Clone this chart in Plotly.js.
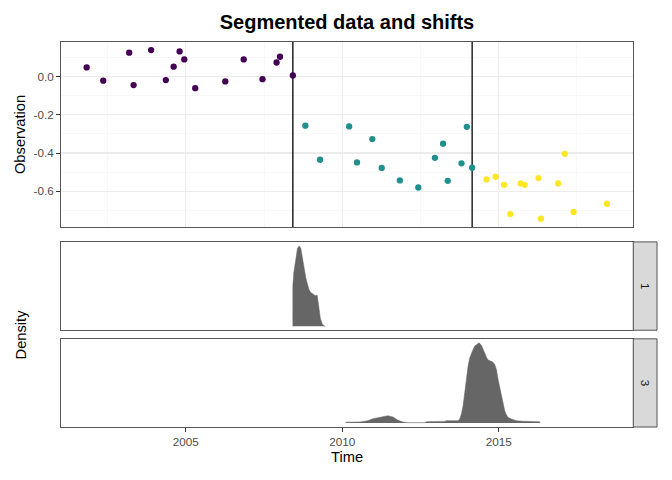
<!DOCTYPE html>
<html>
<head>
<meta charset="utf-8">
<script src="https://cdn.plot.ly/plotly-3.0.1.min.js"></script>
<style>html,body{margin:0;padding:0;background:#fff;}#chart{width:672px;height:480px;}</style>
</head>
<body>
<div id="chart"></div>
<script>
// ---- Data ----
const seg1Time = [2001.83, 2002.36, 2003.19, 2003.33, 2003.89, 2004.36, 2004.61, 2004.80, 2004.95, 2005.30, 2006.26, 2006.85, 2007.45, 2007.90, 2008.01, 2008.42];
const seg1Obs  = [0.047, -0.022, 0.124, -0.045, 0.138, -0.019, 0.051, 0.131, 0.089, -0.061, -0.026, 0.089, -0.014, 0.073, 0.103, 0.005];
const seg2Time = [2008.82, 2009.29, 2010.22, 2010.47, 2010.96, 2011.26, 2011.84, 2012.43, 2012.96, 2013.22, 2013.37, 2013.81, 2013.98, 2014.15];
const seg2Obs  = [-0.257, -0.435, -0.261, -0.449, -0.327, -0.478, -0.543, -0.580, -0.425, -0.351, -0.545, -0.454, -0.263, -0.477];
const seg3Time = [2014.61, 2014.90, 2015.17, 2015.37, 2015.70, 2015.83, 2016.27, 2016.35, 2016.90, 2017.11, 2017.39, 2018.46];
const seg3Obs  = [-0.538, -0.524, -0.566, -0.719, -0.559, -0.566, -0.531, -0.743, -0.559, -0.404, -0.708, -0.665];
const segColors = ['#440154', '#21908C', '#FDE725'];
const changePoints = [2008.42, 2014.15];

// shift densities (relative height)
const dens1Time = [2008.419, 2008.42, 2008.45, 2008.514, 2008.568, 2008.62, 2008.674, 2008.727, 2008.78, 2008.834, 2008.887, 2008.94, 2008.994, 2009.068, 2009.143, 2009.196, 2009.228, 2009.26, 2009.302, 2009.355, 2009.42, 2009.462];
const dens1Val  = [0, 0.50, 0.665, 0.869, 0.971, 1.0, 0.971, 0.849, 0.706, 0.604, 0.522, 0.453, 0.420, 0.400, 0.380, 0.388, 0.298, 0.196, 0.094, 0.033, 0.004, 0];
const dens3Time = [2010.11, 2010.115, 2010.56, 2010.82, 2010.98, 2011.2, 2011.46, 2011.62, 2011.78, 2011.94, 2012.10, 2012.64, 2012.69, 2013.27, 2013.33, 2013.70, 2013.754, 2013.807, 2013.86, 2013.914, 2013.967, 2014.02, 2014.074, 2014.127, 2014.18, 2014.233, 2014.308, 2014.372, 2014.446, 2014.5, 2014.553, 2014.606, 2014.659, 2014.712, 2014.798, 2014.872, 2014.925, 2014.978, 2015.032, 2015.085, 2015.138, 2015.192, 2015.245, 2015.298, 2015.405, 2015.565, 2015.778, 2015.99, 2016.2, 2016.25, 2016.31, 2016.315];
const dens3Val  = [0, 0.010, 0.012, 0.029, 0.054, 0.070, 0.091, 0.074, 0.033, 0.012, 0.004, 0.004, 0.017, 0.020, 0.029, 0.029, 0.050, 0.112, 0.215, 0.380, 0.566, 0.711, 0.814, 0.876, 0.917, 0.959, 0.988, 1.0, 0.971, 0.917, 0.864, 0.822, 0.785, 0.773, 0.764, 0.731, 0.669, 0.545, 0.442, 0.318, 0.215, 0.153, 0.103, 0.070, 0.050, 0.029, 0.021, 0.017, 0.012, 0.020, 0.015, 0];
const stripLabels = ['1', '3'];
const tickYears = [2005, 2010, 2015];
const obsTicks = [0, -0.2, -0.4, -0.6];
const obsTickText = ['0.0', '-0.2', '-0.4', '-0.6'];

// ---- Layout geometry ----
const FONT = 'Liberation Sans, Arial, Helvetica, sans-serif';
const xDom = [0, 0.9602];
const stripDom = [0.9602, 1.0];
const topDom = [0.5197, 1.0];
const midDom = [0.2513, 0.4808];
const botDom = [0, 0.2290];
const xRange = [2001.01, 2019.30];
const obsRange = [-0.786, 0.18];
const borderColor = '#555555';

const pts = (x, y, c) => ({
  type: 'scatter', mode: 'markers', x: x, y: y, xaxis: 'x', yaxis: 'y',
  marker: {color: c, size: 6.3}, hoverinfo: 'skip', showlegend: false
});
const area = (x, y, xa, ya) => ({
  type: 'scatter', mode: 'lines', x: x, y: y, xaxis: xa, yaxis: ya,
  fill: 'tozeroy', fillcolor: '#666666', line: {color: '#666666', width: 0.5, shape: 'linear'},
  hoverinfo: 'skip', showlegend: false
});
const vline = cp => ({
  type: 'scatter', mode: 'lines', x: [cp, cp], y: obsRange, xaxis: 'x', yaxis: 'y',
  line: {color: '#000000', width: 1.3}, hoverinfo: 'skip', showlegend: false, cliponaxis: true
});

const traces = [
  ...changePoints.map(vline),
  pts(seg1Time, seg1Obs, segColors[0]),
  pts(seg2Time, seg2Obs, segColors[1]),
  pts(seg3Time, seg3Obs, segColors[2]),
  area(dens1Time, dens1Val, 'x2', 'y2'),
  area(dens3Time, dens3Val, 'x3', 'y3')
];

const baseX = {
  range: xRange, domain: xDom, zeroline: false, showline: true, mirror: true,
  linecolor: borderColor, linewidth: 1, showgrid: false, ticks: '', showticklabels: false
};
const baseYD = {
  range: [-0.05, 1.05], zeroline: false, showline: true, mirror: true,
  linecolor: borderColor, linewidth: 1, showgrid: false, ticks: '', showticklabels: false
};

const shapes = [];
[midDom, botDom].forEach(d => shapes.push({
  type: 'rect', xref: 'paper', yref: 'paper', x0: stripDom[0], x1: stripDom[1], y0: d[0], y1: d[1],
  fillcolor: '#D9D9D9', line: {color: borderColor, width: 1}, layer: 'above'
}));

const stripX = (stripDom[0] + stripDom[1]) / 2;
const annotations = [
  {text: stripLabels[0], xref: 'paper', yref: 'paper', x: stripX, y: (midDom[0]+midDom[1])/2,
   xanchor: 'center', yanchor: 'middle',
   showarrow: false, textangle: 90, font: {family: FONT, size: 11.5, color: '#1A1A1A'}},
  {text: stripLabels[1], xref: 'paper', yref: 'paper', x: stripX, y: (botDom[0]+botDom[1])/2,
   xanchor: 'center', yanchor: 'middle',
   showarrow: false, textangle: 90, font: {family: FONT, size: 11.5, color: '#1A1A1A'}},
  {text: 'Density', xref: 'paper', yref: 'paper', x: -40/596, xanchor: 'center', yanchor: 'middle', y: (botDom[0]+midDom[1])/2,
   showarrow: false, textangle: -90, font: {family: FONT, size: 14.7, color: '#000000'}}
];

const layout = {
  width: 672, height: 480,
  margin: {l: 61, r: 15, t: 42.3, b: 52.5, pad: 0},
  paper_bgcolor: '#ffffff', plot_bgcolor: '#ffffff',
  font: {family: FONT, color: '#000000'},
  showlegend: false,
  title: {text: '<b>Segmented data and shifts</b>', font: {family: FONT, size: 20, color: '#000000'},
          x: 347 / 672, xref: 'container', xanchor: 'center', y: 1 - 22 / 480, yref: 'container', yanchor: 'middle'},
  xaxis: Object.assign({}, baseX, {
    anchor: 'y', showgrid: true, gridcolor: '#EBEBEB', gridwidth: 1.1, tick0: 2005, dtick: 5,
    minor: {dtick: 2.5, tick0: 2005, showgrid: true, gridcolor: '#F3F3F3', gridwidth: 0.6, ticks: ''}
  }),
  yaxis: {
    domain: topDom, anchor: 'x', range: obsRange, zeroline: false, showline: true, mirror: true,
    linecolor: borderColor, linewidth: 1, showgrid: true, gridcolor: '#EBEBEB', gridwidth: 1.1,
    tickmode: 'array', tickvals: obsTicks, ticktext: obsTickText, ticks: 'outside', ticklen: 4, tickcolor: '#333333', tickwidth: 1,
    tickfont: {family: FONT, size: 11.7, color: '#4D4D4D'},
    minor: {tickmode: 'array', tickvals: [0.1, -0.1, -0.3, -0.5, -0.7], showgrid: true, gridcolor: '#F3F3F3', gridwidth: 0.6, ticks: ''},
    title: {text: 'Observation', standoff: 4, font: {family: FONT, size: 14.7, color: '#000000'}}
  },
  xaxis2: Object.assign({}, baseX, {anchor: 'y2', matches: 'x'}),
  yaxis2: Object.assign({}, baseYD, {domain: midDom, anchor: 'x2'}),
  xaxis3: Object.assign({}, baseX, {
    anchor: 'y3', matches: 'x', showticklabels: true, ticks: 'outside', ticklen: 4, tickcolor: '#333333', tickwidth: 1,
    tickmode: 'array', tickvals: tickYears, ticktext: tickYears.map(String),
    tickfont: {family: FONT, size: 11.7, color: '#4D4D4D'},
    title: {text: 'Time', standoff: 4, font: {family: FONT, size: 14.7, color: '#000000'}}
  }),
  yaxis3: Object.assign({}, baseYD, {domain: botDom, anchor: 'x3'}),
  shapes: shapes,
  annotations: annotations
};

Plotly.newPlot('chart', traces, layout, {displayModeBar: false, staticPlot: true});
</script>
</body>
</html>
